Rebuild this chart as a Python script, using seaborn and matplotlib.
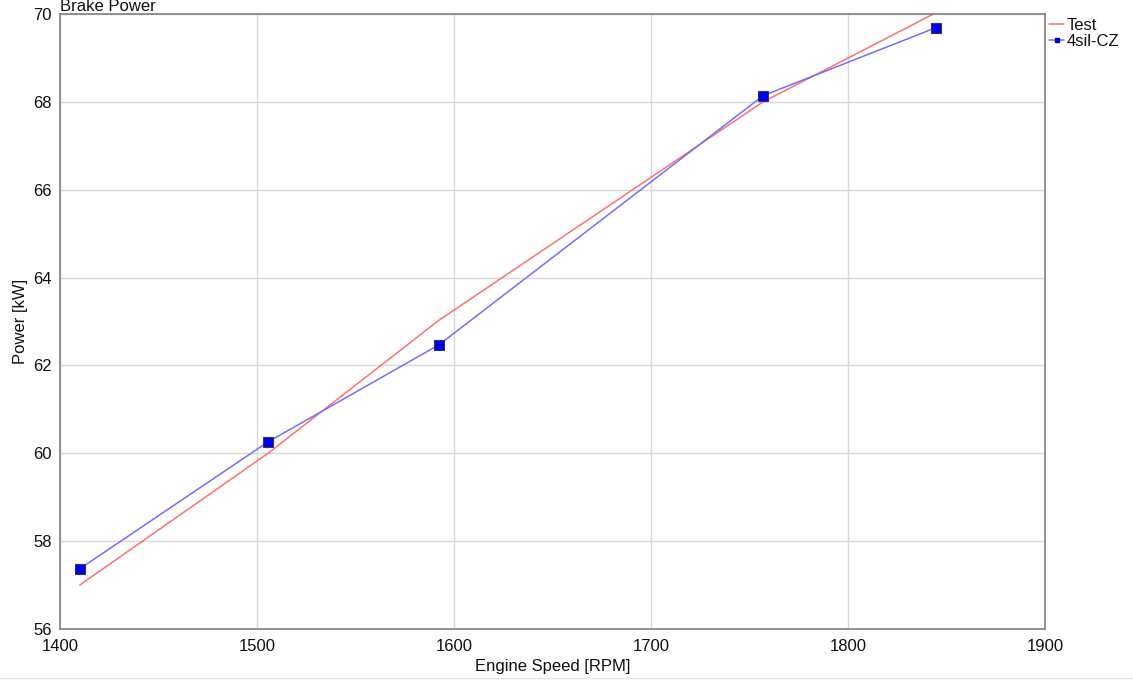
import matplotlib
matplotlib.use("Agg")
import matplotlib.pyplot as plt
import seaborn as sns
import pandas as pd
from matplotlib.lines import Line2D

speed = [1410, 1505.6, 1592.4, 1756.9, 1844.7]
test_power = [57.0, 60.0, 63.03, 68.0, 70.03]
sim_power = [57.37, 60.26, 62.47, 68.14, 69.69]
x_ticks = [1400, 1500, 1600, 1700, 1800, 1900]
y_ticks = [56, 58, 60, 62, 64, 66, 68, 70]

sns.set_style("white")
plt.rcParams['font.family'] = ['Liberation Sans', 'DejaVu Sans']
plt.rcParams['text.color'] = '#111111'
plt.rcParams['xtick.color'] = '#111111'
plt.rcParams['ytick.color'] = '#111111'
plt.rcParams['axes.labelcolor'] = '#111111'

df_test = pd.DataFrame({"speed": speed, "power": test_power})
df_sim = pd.DataFrame({"speed": speed, "power": sim_power})

fig = plt.figure(figsize=(11.33, 6.82), dpi=100)
ax = fig.add_axes([60/1133, 1 - 629/682, (1045-60)/1133, (629-14)/682])

red = "#ff7070"
blue = "#7070ff"
sns.lineplot(data=df_test, x="speed", y="power", ax=ax, color=red, lw=1.1, legend=False)
sns.lineplot(data=df_sim, x="speed", y="power", ax=ax, color=blue, lw=1.1,
             marker="s", markersize=7, markerfacecolor="#0000ee", markeredgecolor="#333366",
             markeredgewidth=0.8, legend=False)

ax.set_xlim(1400, 1900)
ax.set_ylim(56, 70)
ax.set_xticks(x_ticks)
ax.set_yticks(y_ticks)
ax.grid(True, color="#d8d8d8", lw=1)
ax.set_axisbelow(True)
ax.tick_params(axis="x", length=0, labelsize=12, pad=7)
ax.tick_params(axis="y", length=0, labelsize=12, pad=6)
for s in ax.spines.values():
    s.set_color("#808080")
    s.set_linewidth(1.2)
ax.set_xlabel("Engine Speed [RPM]", fontsize=12, labelpad=4)
ax.set_ylabel("Power [kW]", fontsize=12, labelpad=3.5)
ax.text(0.0, 1.0, "Brake Power", transform=ax.transAxes, fontsize=12, ha="left", va="bottom")

handles = [Line2D([], [], color=red, lw=1.1),
           Line2D([], [], color=blue, lw=1.1, marker="s", markersize=3,
                  markerfacecolor="#0000ee", markeredgecolor="#0000aa")]
ax.legend(handles, ["Test", "4sil-CZ"], loc="upper left", bbox_to_anchor=(1.0, 1.0),
          frameon=False, fontsize=12, handlelength=0.9, handletextpad=0.15,
          borderaxespad=0.05, labelspacing=0.05, borderpad=0.2)

fig.add_artist(Line2D([0, 1], [4/682, 4/682], color="#e6e6e6", lw=1, transform=fig.transFigure))

fig.savefig("out.png", dpi=100)
